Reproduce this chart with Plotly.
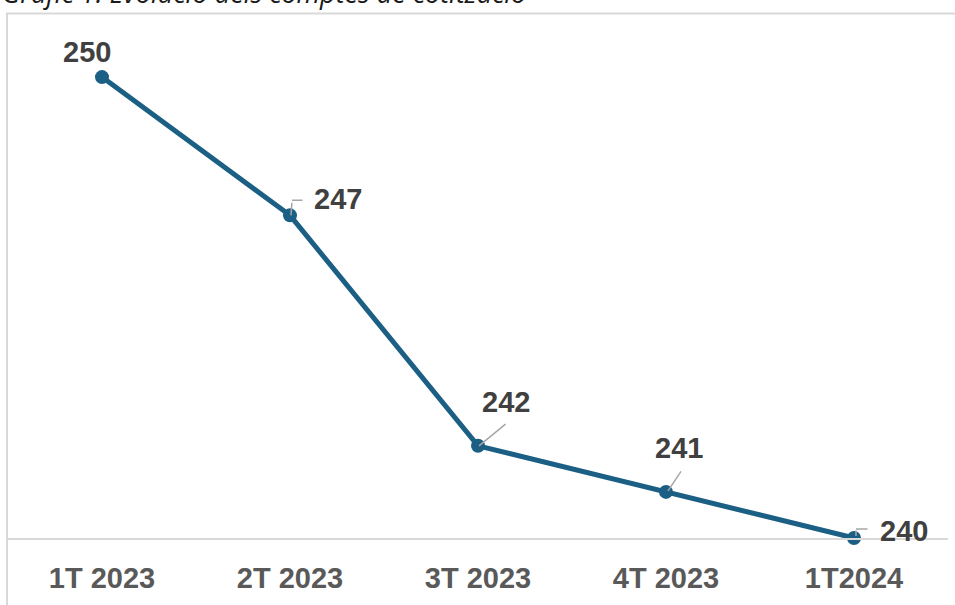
import plotly.graph_objects as go

categories = ["1T 2023", "2T 2023", "3T 2023", "4T 2023", "1T2024"]
values = [250, 247, 242, 241, 240]
title_text = "Gràfic 1. Evolució dels comptes de cotització"

W, H = 955, 605
L, R, T, B = 8, 7, 31, 67
PW, PH = W - L - R, H - T - B

LINE_COLOR = "#1b5f84"
LABEL_COLOR = "#404040"
TICK_COLOR = "#595959"
FRAME_COLOR = "#d9d9d9"
FONT = "Liberation Sans, Arial, sans-serif"

fig = go.Figure()
fig.add_trace(go.Scatter(
    x=categories, y=values, mode="lines+markers",
    line=dict(color=LINE_COLOR, width=5),
    marker=dict(color=LINE_COLOR, size=14),
    hoverinfo="skip", showlegend=False, cliponaxis=False,
))

# label offsets (pixels) and leader lines per point
label_shift = [(-15, 25), (48, 16), (28, 44), (13, 44), (50, 7)]
# leader segments: list of (xshift, yshift, ax, ay) in pixels
leaders = [
    [],
    [(1, 0, 1, -14), (2, 15, 12, 0)],
    [(1, 0, 28, -23)],
    [(2, 1, 14, -21)],
    [(2, 2, 0, -7), (2, 9, 13, 0)],
]

annotations = []
for c, v, (dx, dy), segs in zip(categories, values, label_shift, leaders):
    for xs, ys, ax, ay in segs:
        annotations.append(dict(
            x=c, y=v, xref="x", yref="y", text="", showarrow=True,
            arrowhead=0, arrowwidth=1.5, arrowcolor="#a6a6a6",
            ax=ax, ay=ay, xshift=xs, yshift=ys, standoff=0, startstandoff=0,
        ))
    annotations.append(dict(
        x=c, y=v, xref="x", yref="y", text=str(v), showarrow=False,
        xshift=dx, yshift=dy,
        font=dict(family=FONT, size=29, color=LABEL_COLOR, weight="bold"),
    ))

annotations.append(dict(
    x=(0 - L) / PW, y=(H - B - 8) / PH, xref="paper", yref="paper",
    xanchor="left", yanchor="bottom", showarrow=False,
    text="<i>" + title_text + "</i>",
    font=dict(family="Open Sans, sans-serif", size=27, color="#1a1a1a"),
    yshift=-5,
))

shapes = [dict(
    type="rect", xref="paper", yref="paper",
    x0=(7 - L) / PW, x1=(W + 10 - L) / PW,
    y0=(H - B - (H + 10)) / PH, y1=(H - B - 13.5) / PH,
    line=dict(color=FRAME_COLOR, width=2), fillcolor="rgba(0,0,0,0)",
    layer="below",
)]

fig.update_layout(
    width=W, height=H,
    margin=dict(l=L, r=R, t=T, b=B, pad=0),
    paper_bgcolor="white", plot_bgcolor="white",
    annotations=annotations, shapes=shapes,
    xaxis=dict(
        type="category", range=[-0.5, len(categories) - 0.5],
        showgrid=False, zeroline=False, showline=True,
        linecolor=FRAME_COLOR, linewidth=2,
        ticks="outside", ticklen=13, tickcolor="rgba(0,0,0,0)",
        tickfont=dict(family=FONT, size=29, color=TICK_COLOR, weight="bold"),
    ),
    yaxis=dict(
        range=[240, 251], visible=False, showgrid=False, zeroline=False,
    ),
)

fig.write_html(
    "out.html",
    config={"displayModeBar": False},
    post_script="document.body.style.margin='0';document.body.style.overflow='hidden';",
)
